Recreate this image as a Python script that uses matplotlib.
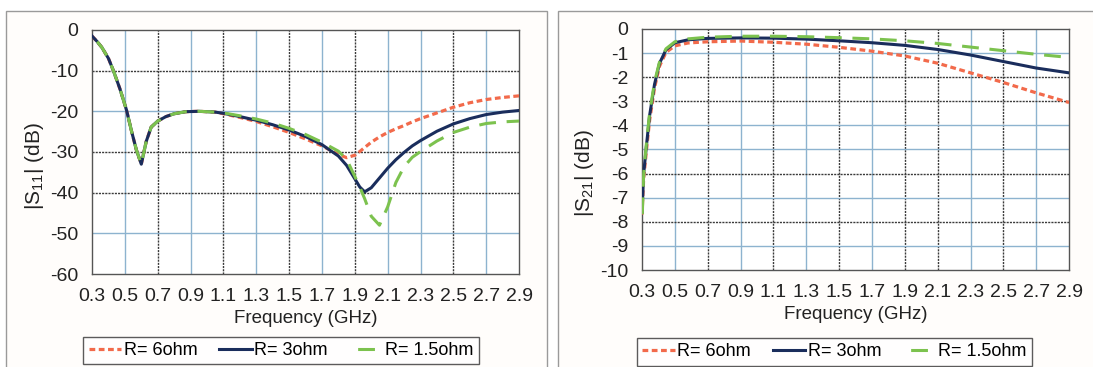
import matplotlib
matplotlib.use("Agg")
import matplotlib.pyplot as plt
from matplotlib.patches import Rectangle

plt.rcParams['font.family'] = ['Liberation Sans', 'DejaVu Sans']
plt.rcParams['mathtext.fontset'] = 'custom'
plt.rcParams['mathtext.rm'] = 'Liberation Sans'
plt.rcParams['mathtext.it'] = 'Liberation Sans'
plt.rcParams['axes.unicode_minus'] = False

# ---- data ----
labels = ['R= 6ohm', 'R= 3ohm', 'R= 1.5ohm']

# |S11| (dB)
f11 = [0.3, 0.33, 0.36, 0.4, 0.43, 0.47, 0.51, 0.54, 0.57, 0.6, 0.63, 0.66, 0.7, 0.75, 0.8, 0.87, 0.95, 1.05,
       1.1, 1.2, 1.3, 1.4, 1.5, 1.6, 1.7, 1.8, 1.85, 1.9, 1.93, 1.96, 2.0, 2.05, 2.1, 2.15, 2.2,
       2.25, 2.3, 2.4, 2.5, 2.6, 2.7, 2.8, 2.9]
s11_6 = [-1.5, -2.8, -4.3, -7.0, -10.0, -14.5, -19.7, -24.8, -29.5, -33.0, -27.4, -23.9, -22.4, -21.3, -20.6, -20.1, -20.0, -20.2,
         -20.6, -21.5, -22.5, -23.8, -25.2, -26.8, -28.5, -30.6, -31.4, -30.8, -29.9, -28.9, -27.6, -26.3, -25.2, -24.3, -23.5,
         -22.6, -21.8, -20.4, -19.0, -17.9, -17.1, -16.6, -16.2]
s11_3 = [-1.5, -2.8, -4.3, -7.0, -10.0, -14.5, -19.7, -24.8, -29.5, -33.0, -27.4, -23.9, -22.4, -21.3, -20.6, -20.1, -20.0, -20.2,
         -20.5, -21.3, -22.2, -23.3, -24.6, -26.2, -28.2, -31.0, -33.3, -36.6, -38.6, -39.8, -38.8, -36.4, -34.0, -31.9, -30.1,
         -28.5, -27.2, -24.9, -23.1, -21.8, -20.8, -20.2, -19.8]
s11_15 = [-1.5, -2.8, -4.3, -7.0, -10.0, -14.5, -19.7, -24.8, -29.5, -33.0, -27.4, -23.9, -22.4, -21.3, -20.6, -20.1, -20.0, -20.2,
          -20.4, -21.1, -21.9, -22.9, -24.2, -25.7, -27.6, -29.8, -31.8, -36.0, -38.6, -41.5, -45.8, -48.0, -43.5, -37.5, -33.6,
          -31.3, -29.9, -27.3, -25.2, -23.9, -23.0, -22.6, -22.4]

# |S21| (dB)
f21 = [0.3, 0.31, 0.326, 0.346, 0.376, 0.406, 0.446, 0.5, 0.58, 0.7, 0.9, 1.1, 1.3, 1.5,
       1.7, 1.9, 2.1, 2.3, 2.5, 2.7, 2.9]
s21_6 = [-7.7, -6.2, -5.1, -3.8, -2.45, -1.55, -0.97, -0.7, -0.58, -0.53, -0.5, -0.55, -0.63, -0.76,
         -0.92, -1.12, -1.42, -1.82, -2.22, -2.65, -3.05]
s21_3 = [-7.6, -6.0, -4.9, -3.6, -2.3, -1.43, -0.86, -0.57, -0.45, -0.39, -0.37, -0.38, -0.42, -0.49,
         -0.57, -0.68, -0.85, -1.08, -1.35, -1.62, -1.82]
s21_15 = [-8.0, -6.0, -4.8, -3.5, -2.2, -1.38, -0.82, -0.53, -0.41, -0.34, -0.3, -0.3, -0.32, -0.36,
          -0.41, -0.49, -0.6, -0.75, -0.9, -1.05, -1.18]

xticks = [0.3, 0.5, 0.7, 0.9, 1.1, 1.3, 1.5, 1.7, 1.9, 2.1, 2.3, 2.5, 2.7, 2.9]

RED = '#f26a4b'
NAVY = '#1a2d5c'
GREEN = '#7cc24e'
DARK = '#3a3a3a'
LIGHT = '#8db3cf'

styles = [dict(color=RED, lw=2.3, ls=(0, (1.8, 1.1))),
          dict(color=NAVY, lw=2.2, ls='-'),
          dict(color=GREEN, lw=2.2, ls=(6.5, (5.5, 3.5)))]

fig = plt.figure(figsize=(10.93, 3.67), dpi=100)

# panel frames
for x0, w in [(6, 541), (558, 540)]:
    fig.patches.append(Rectangle((x0 / 1093, -0.1), w / 1093, (367 - 11) / 367 + 0.1,
                                 transform=fig.transFigure, fc='#fffdfb', ec='#9a9a9a',
                                 lw=1.0, zorder=-5))


def setup(ax, yticks, ylabel, dark_x, dark_y, label_y):
    ax.set_xlim(0.3, 2.9)
    ax.set_ylim(yticks[-1], yticks[0])
    ax.set_xticks(xticks)
    ax.set_xticklabels([f'{t:.1f}' for t in xticks])
    ax.set_yticks(yticks)
    ax.tick_params(length=0, labelsize=14, colors='#222222')
    ax.tick_params(axis='x', pad=10)
    ax.tick_params(axis='y', pad=10)
    for t in xticks[1:-1]:
        ax.axvline(t, color=DARK if round(t, 1) in dark_x else LIGHT,
                   lw=1.0, ls=(0, (1.5, 0.8)) if round(t, 1) in dark_x else '-', zorder=1)
    for t in yticks[1:-1]:
        ax.axhline(t, color=DARK if t in dark_y else LIGHT,
                   lw=1.0, ls=(0, (1.5, 0.8)) if t in dark_y else '-', zorder=1)
    for s in ax.spines.values():
        s.set_color('#555555')
        s.set_linewidth(1.0)
    ax.set_xlabel('Frequency (GHz)', fontsize=13.5, labelpad=4, color='#222222')
    ax.set_ylabel(ylabel, fontsize=15, color='#222222')
    ax.yaxis.set_label_coords(-0.108, label_y)


ax1 = fig.add_axes([0.0842, 0.2534, 0.3907, 0.665])
for y, lab, st in zip([s11_6, s11_3, s11_15], labels, styles):
    ax1.plot(f11, y, label=lab, zorder=3, **st)
setup(ax1, list(range(0, -61, -10)), r'|S$_{\mathrm{11}}$| (dB)',
      [0.7, 1.1, 1.5, 1.9, 2.5], [-10, -30, -40], 0.443)

ax2 = fig.add_axes([0.5874, 0.2643, 0.3907, 0.6567])
for y, lab, st in zip([s21_6, s21_3, s21_15], labels, styles):
    ax2.plot(f21, y, label=lab, zorder=3, **st)
setup(ax2, list(range(0, -11, -1)), r'|S$_{\mathrm{21}}$| (dB)',
      [0.7, 1.1, 1.5, 1.9, 2.1, 2.5], [-2, -3, -6, -8], 0.40)

for ax, cx, cy in [(ax1, 0.257, 0.045), (ax2, 0.7635, 0.041)]:
    leg = ax.legend(loc='center', bbox_to_anchor=(cx, cy), bbox_transform=fig.transFigure,
                    ncol=3, fontsize=13, frameon=True, fancybox=False, handlelength=1.8,
                    handletextpad=0.15, columnspacing=1.2, borderpad=0.3, borderaxespad=0)
    leg.get_frame().set_edgecolor('#333333')
    leg.get_frame().set_linewidth(1.0)

fig.savefig('out.png', dpi=100)
